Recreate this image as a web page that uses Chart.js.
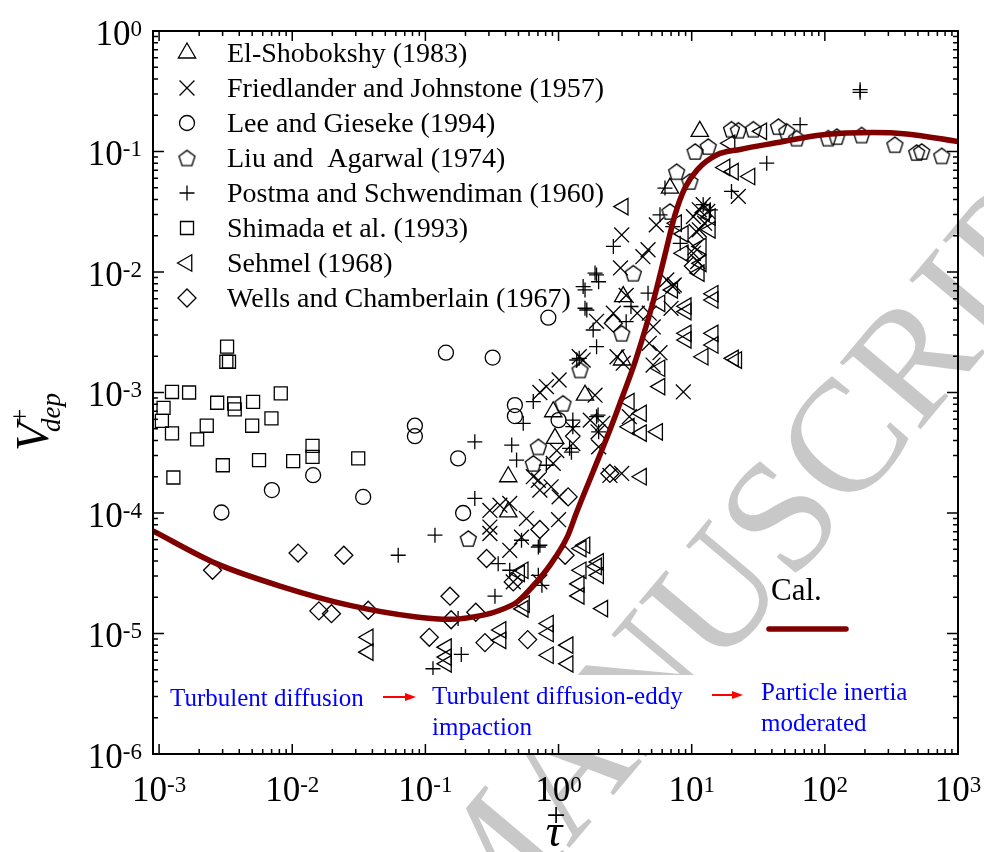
<!DOCTYPE html>
<html>
<head>
<meta charset="utf-8">
<script src="https://cdn.jsdelivr.net/npm/chart.js@4.4.1/dist/chart.umd.min.js"></script>
<style>
  html, body { margin: 0; padding: 0; background: #ffffff; }
  canvas { display: block; }
</style>
</head>
<body>
<canvas id="chart" width="984" height="852"></canvas>
<script>
// ---------------- data ----------------
const xTickValues = [1e-3, 1e-2, 1e-1, 1, 10, 100, 1000];
const xTickExponents = ['-3', '-2', '-1', '0', '1', '2', '3'];
const yTickValues = [1e-6, 1e-5, 1e-4, 1e-3, 1e-2, 1e-1, 1];
const yTickExponents = ['-6', '-5', '-4', '-3', '-2', '-1', '0'];

const seriesNames = [
  'El-Shobokshy (1983)',
  'Friedlander and Johnstone (1957)',
  'Lee and Gieseke (1994)',
  'Liu and  Agarwal (1974)',
  'Postma and Schwendiman (1960)',
  'Shimada et al. (1993)',
  'Sehmel (1968)',
  'Wells and Chamberlain (1967)'
];

// [tau+, V+dep]
const elShobokshy = [
  [3.06, 6.25e-3], [0.912, 6.92e-4], [0.94, 4.16e-4], [0.419, 2.0e-4], [0.419, 1.02e-4],
  [1.58, 9.5e-4], [3.0, 1.86e-3], [11.5, 0.147], [6.87, 0.0497]
];

const friedlander = [
  [22.4, 0.0424], [12.2, 0.0362], [13.2, 0.0318], [12.5, 0.0254], [11.4, 0.0224], [10.3, 0.0288],
  [5.42, 0.0246], [4.7, 0.0153], [10.6, 0.0159], [11.1, 0.0122], [7.2, 7.6e-3], [8.65, 1.01e-3],
  [4.8, 2.56e-3], [5.13, 1.69e-3], [7.0, 5.0e-3], [4.8, 4.55e-3], [7.4, 7.8e-3], [2.98, 0.0203],
  [2.92, 0.0108], [4.3, 0.0134], [6.5, 8.6e-3], [5.14, 3.5e-3], [3.9, 4.55e-3], [2.58, 4.55e-3],
  [1.93, 3.9e-3], [3.06, 1.75e-3], [1.53, 1.86e-3], [5.78, 2.14e-3], [1.43, 1.98e-3], [1.01, 1.27e-3],
  [0.81, 1.12e-3], [0.724, 1.0e-3], [1.88, 9.5e-4], [1.98, 4.72e-4], [1.28, 3.77e-4], [0.912, 2.58e-4],
  [0.646, 2.0e-4], [0.43, 1.2e-4], [0.305, 1.05e-4], [0.305, 7.65e-5], [0.574, 9.0e-5], [1.0, 8.8e-5],
  [0.43, 4.9e-5], [0.527, 6.3e-5], [2.43, 2.05e-4], [2.98, 2.13e-4], [1.01, 1.36e-4], [0.724, 1.55e-4],
  [2.75, 1.98e-3], [3.4, 6.3e-4], [3.22, 6.4e-3], [2.15, 5.55e-4], [0.88, 1.65e-4], [0.363, 1.16e-4],
  [0.305, 6.76e-5], [0.724, 2.68e-5], [2.0, 3.54e-4], [1.73, 5.9e-4], [1.28, 5.0e-4], [0.97, 3.3e-4],
  [0.705, 1.87e-4], [0.457, 2.68e-5], [10.8, 0.0217], [10.3, 0.0143], [11.4, 0.0328]
];

const leeGieseke = [
  [2.94e-3, 1.01e-4], [7.03e-3, 1.55e-4], [0.01435, 2.06e-4], [0.0341, 1.36e-4], [0.192, 1.0e-4],
  [0.1426, 2.14e-3], [0.320, 1.95e-3], [0.838, 4.18e-3], [0.0834, 5.3e-4], [0.0834, 4.34e-4],
  [0.176, 2.84e-4], [0.470, 7.87e-4], [0.470, 6.37e-4], [1.0, 5.9e-4]
];

const liuAgarwal = [
  [22.4, 0.150], [19.9, 0.153], [29.0, 0.153], [44.8, 0.161], [51.7, 0.147], [61.5, 0.129],
  [106, 0.129], [123, 0.133], [189, 0.137], [336, 0.114], [490, 0.098], [534, 0.1], [755, 0.092],
  [13.3, 0.110], [10.6, 0.1], [7.71, 0.068], [9.7, 0.0564], [6.87, 0.0318], [3.64, 9.77e-3],
  [2.98, 3.1e-3], [1.45, 1.54e-3], [0.705, 3.54e-4], [0.646, 2.58e-4], [0.210, 6.14e-5], [1.08, 8.13e-4]
];

const postma = [
  [184, 0.326], [184, 0.31], [65.2, 0.167], [36.6, 0.080], [19.9, 0.0466], [12.2, 0.0362],
  [6.3, 0.0497], [5.78, 0.0298], [2.58, 0.0163], [1.88, 9.8e-3], [2.0, 8.3e-3], [1.58, 7.1e-3],
  [1.58, 5.0e-3], [1.82, 3.3e-3], [1.93, 2.4e-3], [1.43, 1.92e-3], [3.22, 3.87e-3], [3.5, 5.17e-3],
  [4.7, 6.67e-3], [7.2, 0.0238], [8.2, 0.0173], [13.8, 0.0328], [0.235, 3.9e-4], [0.445, 3.66e-4],
  [0.484, 2.75e-4], [0.235, 1.32e-4], [0.118, 6.55e-5], [0.0625, 4.46e-5], [0.646, 8.4e-4],
  [0.543, 5.55e-4], [1.63, 4.84e-3], [1.53, 7.57e-3], [1.37, 1.86e-3], [1.28, 5.9e-4], [1.28, 5.2e-4],
  [1.93, 6.3e-4], [2.0, 4.72e-4], [1.21, 3.44e-4], [0.81, 2.49e-4], [0.705, 5.22e-5], [0.527, 5.94e-5],
  [0.352, 3.8e-5], [0.43, 3.35e-5], [0.333, 2.04e-5], [0.176, 1.33e-5], [0.186, 6.7e-6], [0.114, 5.1e-6],
  [0.705, 3.04e-5], [0.724, 5.4e-5], [0.75, 2.51e-5], [1.98, 6.5e-4], [1.25, 3.2e-4], [1.93, 9.46e-3]
];

const shimada = [
  [3.24e-3, 2.40e-3], [3.2e-3, 1.8e-3], [3.35e-3, 1.8e-3], [1.25e-3, 1.01e-3], [1.68e-3, 1.0e-3],
  [1.08e-3, 7.46e-4], [1.05e-3, 5.82e-4], [1.25e-3, 4.58e-4], [1.93e-3, 4.08e-4], [2.28e-3, 5.30e-4],
  [2.73e-3, 8.22e-4], [3.66e-3, 8.1e-4], [3.7e-3, 7.24e-4], [5.08e-3, 8.37e-4], [5.0e-3, 5.3e-4],
  [6.98e-3, 6.1e-4], [8.2e-3, 9.84e-4], [0.0142, 3.61e-4], [0.0142, 2.92e-4], [0.01016, 2.69e-4],
  [5.63e-3, 2.75e-4], [3.01e-3, 2.49e-4], [1.28e-3, 1.97e-4], [0.0313, 2.84e-4]
];

const sehmel = [
  [3.06, 0.0349], [33.6, 0.147], [19.4, 0.117], [20.6, 0.068], [27.4, 0.062], [17.8, 0.0737],
  [12.5, 0.0312], [13.8, 0.0286], [13.8, 0.0224], [11.8, 0.0163], [11.8, 0.0118], [14.5, 6.6e-3],
  [8.65, 0.0207], [8.65, 0.0143], [14.5, 5.86e-3], [9.1, 4.69e-3], [9.1, 2.73e-3], [14.5, 3.1e-3],
  [14.5, 2.48e-3], [12.2, 1.98e-3], [21.8, 1.86e-3], [5.78, 1.59e-3], [5.78, 1.12e-3], [4.2, 6.7e-4],
  [4.2, 4.6e-4], [5.55, 4.72e-4], [4.2, 2.0e-4], [7.7, 0.0254], [11.4, 9.8e-3], [9.1, 5.2e-3],
  [9.1, 3.1e-3], [20.6, 1.92e-3], [7.2, 7.1e-3], [5.78, 5.5e-3], [3.4, 5.2e-4], [3.4, 8.4e-4],
  [2.0, 3.93e-5], [2.0, 3.04e-5], [1.48, 5.07e-5], [1.48, 3.35e-5], [1.43, 2.58e-5], [1.43, 2.05e-5],
  [2.15, 1.61e-5], [0.543, 3.35e-5], [0.543, 1.6e-5], [0.84, 1.21e-5], [0.84, 1.0e-5], [1.18, 8.0e-6],
  [1.18, 5.6e-6], [0.84, 6.6e-6], [0.37, 8.77e-6], [0.37, 1.07e-5], [0.144, 7.7e-6], [0.144, 6.37e-6],
  [0.144, 5.6e-6], [0.0372, 9.3e-6], [0.0372, 7.0e-6], [0.555, 1.75e-5], [1.58, 5.4e-5], [1.93, 3.6e-5],
  [0.51, 3.15e-5]
];

const wellsChamberlain = [
  [2.52e-3, 3.35e-5], [0.01106, 4.65e-5], [0.0244, 4.46e-5], [0.01585, 1.54e-5], [0.0197, 1.46e-5],
  [0.0372, 1.56e-5], [0.153, 2.04e-5], [0.156, 1.3e-5], [0.107, 9.3e-6], [0.239, 1.5e-5],
  [0.28, 8.4e-6], [0.586, 8.9e-6], [0.457, 2.68e-5], [0.288, 4.19e-5], [0.724, 7.3e-5],
  [1.12, 4.46e-5], [1.18, 1.36e-4], [2.43, 2.13e-4], [2.58, 3.76e-3], [10.3, 0.0112]
];

// calculated deposition curve
const calTau = [9.0e-4, 2.70e-3, 8.55e-3, 0.0271, 0.0859, 0.153, 0.272, 0.363, 0.486, 0.641,
  0.861, 1.16, 1.37, 1.81, 2.43, 3.05, 3.75, 4.46, 5.30, 6.30, 7.49, 8.91, 11.0, 15.5, 23.1,
  41.0, 97.5, 231, 412, 1000];
const calV = [7.1e-5, 3.80e-5, 2.43e-5, 1.71e-5, 1.37e-5, 1.31e-5, 1.42e-5, 1.56e-5, 1.82e-5, 2.47e-5,
  3.68e-5, 6.3e-5, 1.02e-4, 2.18e-4, 4.88e-4, 9.53e-4, 1.79e-3, 3.30e-3, 6.46e-3, 0.0139, 0.0298,
  0.0500, 0.0705, 0.094, 0.104, 0.117, 0.138, 0.144, 0.140, 0.121];

const regimeLabels = [
  ['Turbulent diffusion'],
  ['Turbulent diffusion-eddy', 'impaction'],
  ['Particle inertia', 'moderated']
];
const calLabel = 'Cal.';
const watermarkText = 'ACCEPTED MANUSCRIPT';

// ---------------- styling ----------------
const SERIF = "'Liberation Serif', 'Times New Roman', serif";
const CURVE_COLOR = '#800000';
const MARK_LW = 1.3;

// pentagon marker as an image
function makePentagon(R) {
  const s = Math.ceil(2 * R + 4);
  const c = document.createElement('canvas');
  c.width = s; c.height = s;
  const g = c.getContext('2d');
  g.strokeStyle = '#000';
  g.lineWidth = MARK_LW;
  g.beginPath();
  const cx = s / 2, cy = s / 2 + R * 0.09;
  for (let i = 0; i < 5; i++) {
    const a = -Math.PI / 2 + i * 2 * Math.PI / 5;
    const px = cx + R * Math.cos(a), py = cy + R * Math.sin(a);
    if (i === 0) g.moveTo(px, py); else g.lineTo(px, py);
  }
  g.closePath();
  g.stroke();
  return c;
}
const pentagonImg = makePentagon(8.4);

const markerSpecs = [
  { data: elShobokshy, style: 'triangle', radius: 10, rotation: 0 },
  { data: friedlander, style: 'crossRot', radius: 10.5, rotation: 0 },
  { data: leeGieseke, style: 'circle', radius: 7.5, rotation: 0 },
  { data: liuAgarwal, style: pentagonImg, radius: 8, rotation: 0 },
  { data: postma, style: 'cross', radius: 7.5, rotation: 0 },
  { data: shimada, style: 'rect', radius: 9.2, rotation: 0 },
  { data: sehmel, style: 'triangle', radius: 9.5, rotation: -90 },
  { data: wellsChamberlain, style: 'rectRot', radius: 9, rotation: 0 }
];

const toPoints = arr => arr.map(([x, y]) => ({ x, y }));

const datasets = [
  {
    type: 'line',
    label: calLabel,
    data: calTau.map((t, i) => ({ x: t, y: calV[i] })),
    borderColor: CURVE_COLOR,
    borderWidth: 5.5,
    pointRadius: 0,
    fill: false,
    cubicInterpolationMode: 'monotone',
    order: 0
  }
].concat(markerSpecs.map((m, i) => ({
  type: 'scatter',
  label: seriesNames[i],
  data: toPoints(m.data),
  pointStyle: m.style,
  pointRadius: m.radius,
  pointRotation: m.rotation,
  pointBorderColor: '#000',
  pointBackgroundColor: 'rgba(0,0,0,0)',
  pointBorderWidth: MARK_LW,
  showLine: false,
  order: 1
})));

// legend marker drawing (same shapes as the plotted points)
function drawMarker(ctx, spec, x, y) {
  ctx.save();
  ctx.strokeStyle = '#000';
  ctx.lineWidth = MARK_LW;
  ctx.beginPath();
  const r = spec.radius;
  if (spec.style === 'triangle') {
    const rot = spec.rotation * Math.PI / 180;
    for (let k = 0; k < 3; k++) {
      const a = rot + k * 2 * Math.PI / 3;
      const px = x + Math.sin(a) * r, py = y - Math.cos(a) * r;
      if (k === 0) ctx.moveTo(px, py); else ctx.lineTo(px, py);
    }
    ctx.closePath();
    ctx.stroke();
  } else if (spec.style === 'crossRot') {
    const d = r * Math.SQRT1_2;
    ctx.moveTo(x - d, y - d); ctx.lineTo(x + d, y + d);
    ctx.moveTo(x + d, y - d); ctx.lineTo(x - d, y + d);
    ctx.stroke();
  } else if (spec.style === 'cross') {
    ctx.moveTo(x - r, y); ctx.lineTo(x + r, y);
    ctx.moveTo(x, y - r); ctx.lineTo(x, y + r);
    ctx.stroke();
  } else if (spec.style === 'circle') {
    ctx.arc(x, y, r, 0, Math.PI * 2);
    ctx.stroke();
  } else if (spec.style === 'rect') {
    const s = r * Math.SQRT1_2;
    ctx.rect(x - s, y - s, 2 * s, 2 * s);
    ctx.stroke();
  } else if (spec.style === 'rectRot') {
    ctx.moveTo(x - r, y); ctx.lineTo(x, y - r); ctx.lineTo(x + r, y); ctx.lineTo(x, y + r);
    ctx.closePath();
    ctx.stroke();
  } else {
    ctx.drawImage(spec.style, x - spec.style.width / 2, y - spec.style.height / 2);
  }
  ctx.restore();
}

// "10" with a raised exponent
function drawPower(ctx, exp, x, baseY, align) {
  const baseFont = '35px ' + SERIF;
  const expFont = '23px ' + SERIF;
  ctx.font = baseFont;
  const w10 = ctx.measureText('10').width;
  ctx.font = expFont;
  const we = ctx.measureText(exp).width;
  const total = w10 + we;
  let x0 = align === 'center' ? x - total / 2 : x - total;
  ctx.textAlign = 'left';
  ctx.textBaseline = 'alphabetic';
  ctx.fillStyle = '#000';
  ctx.font = baseFont;
  ctx.fillText('10', x0, baseY);
  ctx.font = expFont;
  ctx.fillText(exp, x0 + w10, baseY - 9);
}

function arrow(ctx, x1, x2, y) {
  ctx.save();
  ctx.strokeStyle = '#ff0000';
  ctx.fillStyle = '#ff0000';
  ctx.lineWidth = 2;
  ctx.beginPath();
  ctx.moveTo(x1, y); ctx.lineTo(x2 - 8, y);
  ctx.stroke();
  ctx.beginPath();
  ctx.moveTo(x2, y); ctx.lineTo(x2 - 11, y - 4); ctx.lineTo(x2 - 11, y + 4);
  ctx.closePath();
  ctx.fill();
  ctx.restore();
}

const decorations = {
  id: 'decorations',
  beforeDatasetsDraw(chart) {
    // grey diagonal watermark behind the data
    const ctx = chart.ctx;
    ctx.save();
    ctx.translate(477, 958);
    ctx.rotate(-50 * Math.PI / 180);
    ctx.font = '160px ' + SERIF;
    ctx.fillStyle = '#c8c8c8';
    ctx.textBaseline = 'alphabetic';
    const words = watermarkText.split(' ');
    ctx.textAlign = 'right';
    ctx.fillText(words[0] + ' ', 0, 0);
    ctx.textAlign = 'left';
    ctx.fillText(words[1], 0, 0);
    ctx.restore();
  },
  afterDatasetsDraw(chart) {
    const ctx = chart.ctx;
    const area = chart.chartArea;
    const xs = chart.scales.x, ys = chart.scales.y;

    // white band holding the regime labels
    ctx.save();
    ctx.fillStyle = '#ffffff';
    ctx.fillRect(area.left + 2, 675, area.right - area.left - 4, area.bottom - 675 - 1);

    // regime labels and arrows
    ctx.fillStyle = '#0000ff';
    ctx.font = '25px ' + SERIF;
    ctx.textAlign = 'left';
    ctx.textBaseline = 'alphabetic';
    ctx.fillText(regimeLabels[0][0], 170, 706);
    ctx.fillText(regimeLabels[1][0], 432, 704);
    ctx.fillText(regimeLabels[1][1], 432, 735);
    ctx.fillText(regimeLabels[2][0], 761, 700);
    ctx.fillText(regimeLabels[2][1], 761, 731);
    arrow(ctx, 383, 416, 697);
    arrow(ctx, 712, 743, 695);

    // series legend
    for (let i = 0; i < seriesNames.length; i++) {
      const by = 61.5 + i * 35;
      drawMarker(ctx, markerSpecs[i], 187, by - 8.5);
      ctx.fillStyle = '#000';
      ctx.font = '28px ' + SERIF;
      ctx.textAlign = 'left';
      ctx.fillText(seriesNames[i], 227, by);
    }

    // curve legend
    ctx.fillStyle = '#000';
    ctx.font = '31px ' + SERIF;
    ctx.fillText(calLabel, 771, 600);
    ctx.strokeStyle = CURVE_COLOR;
    ctx.lineWidth = 5.5;
    ctx.lineCap = 'round';
    ctx.beginPath();
    ctx.moveTo(769, 629); ctx.lineTo(846, 629);
    ctx.stroke();
    ctx.lineCap = 'butt';

    // frame
    ctx.strokeStyle = '#000';
    ctx.lineWidth = 2;
    ctx.strokeRect(area.left, area.top, area.right - area.left, area.bottom - area.top);

    // inward ticks on all four sides
    ctx.lineWidth = 1.5;
    ctx.beginPath();
    for (let k = -4; k <= 3; k++) {
      for (let m = 1; m <= 9; m++) {
        const v = m * Math.pow(10, k);
        const len = m === 1 ? 10 : 5;
        if (v >= xs.min * 0.999 && v <= xs.max * 1.001) {
          const px = xs.getPixelForValue(v);
          ctx.moveTo(px, area.bottom); ctx.lineTo(px, area.bottom - len);
          ctx.moveTo(px, area.top); ctx.lineTo(px, area.top + len);
        }
      }
    }
    for (let k = -6; k <= 0; k++) {
      for (let m = 1; m <= 9; m++) {
        const v = m * Math.pow(10, k);
        const len = m === 1 ? 11 : 5;
        if (v >= ys.min * 0.999 && v <= ys.max * 1.001) {
          const py = ys.getPixelForValue(v);
          ctx.moveTo(area.left, py); ctx.lineTo(area.left + len, py);
          ctx.moveTo(area.right, py); ctx.lineTo(area.right - len, py);
        }
      }
    }
    ctx.stroke();

    // tick labels
    xTickValues.forEach((v, i) => {
      drawPower(ctx, xTickExponents[i], xs.getPixelForValue(v), 801, 'center');
    });
    yTickValues.forEach((v, i) => {
      drawPower(ctx, yTickExponents[i], 142, ys.getPixelForValue(v) + 13.5, 'right');
    });

    // y axis title: V+dep
    ctx.save();
    ctx.translate(48, 451);
    ctx.rotate(-Math.PI / 2);
    ctx.fillStyle = '#000';
    ctx.textAlign = 'left';
    ctx.font = 'italic 46px ' + SERIF;
    ctx.fillText('V', 0, 0);
    ctx.font = 'italic 27px ' + SERIF;
    ctx.fillText('dep', 19, 12);
    ctx.font = '27px ' + SERIF;
    ctx.fillText('+', 27, -19);
    ctx.restore();

    // x axis title: tau+
    ctx.fillStyle = '#000';
    ctx.textAlign = 'center';
    ctx.font = 'italic 46px ' + SERIF;
    ctx.fillText('\u03C4', 554, 846);
    ctx.font = '34px ' + SERIF;
    ctx.fillText('+', 556, 826);
    ctx.restore();
  }
};

new Chart(document.getElementById('chart'), {
  data: { datasets },
  options: {
    responsive: false,
    animation: false,
    events: [],
    devicePixelRatio: 1,
    layout: { padding: { left: 153, right: 26, top: 31, bottom: 98 } },
    scales: {
      x: { type: 'logarithmic', min: 9.0e-4, max: 1000, display: false },
      y: { type: 'logarithmic', min: 1e-6, max: 1, display: false }
    },
    plugins: {
      legend: { display: false },
      tooltip: { enabled: false }
    }
  },
  plugins: [decorations]
});
</script>
</body>
</html>
